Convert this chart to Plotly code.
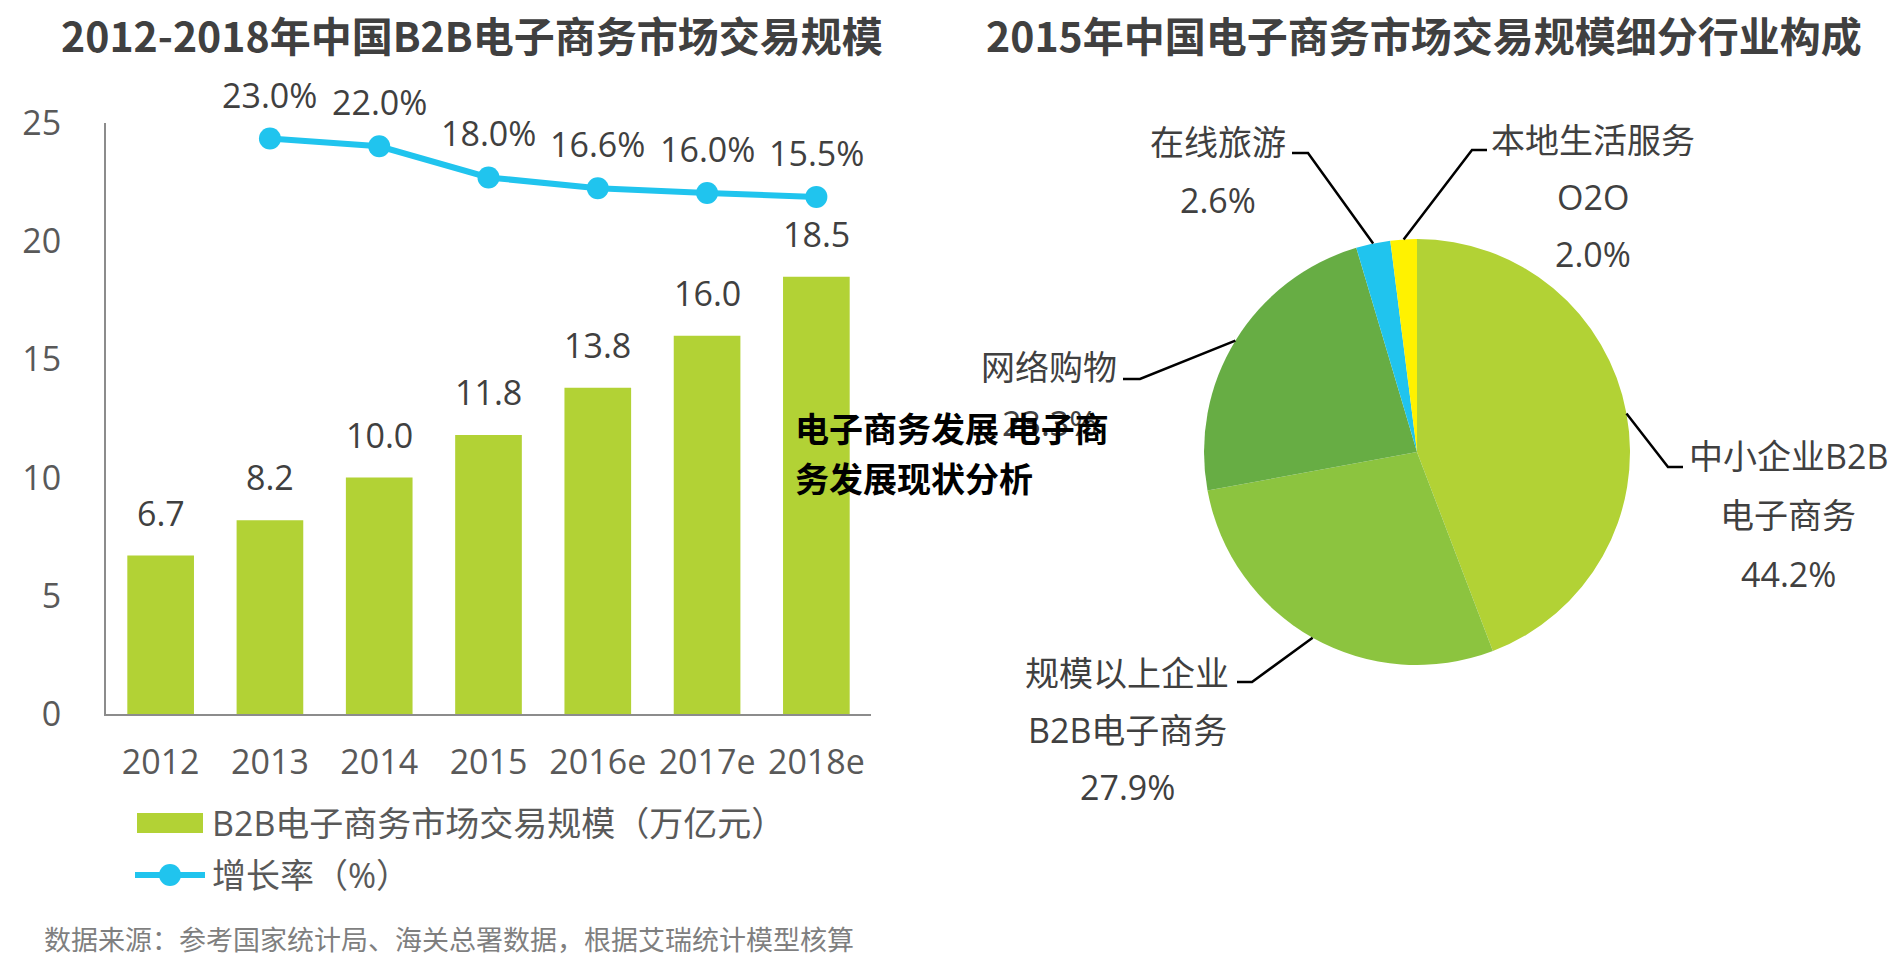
import math
import plotly.graph_objects as go

# ---------------- data ----------------
years = ["2012", "2013", "2014", "2015", "2016e", "2017e", "2018e"]
b2b_scale = [6.7, 8.2, 10.0, 11.8, 13.8, 16.0, 18.5]          # 万亿元
growth_rate = [None, 23.0, 22.0, 18.0, 16.6, 16.0, 15.5]        # %
y_ticks = [0, 5, 10, 15, 20, 25]

pie_labels = ["中小企业B2B电子商务", "规模以上企业B2B电子商务", "网络购物", "在线旅游", "本地生活服务O2O"]
pie_values = [44.2, 27.9, 23.3, 2.6, 2.0]
pie_text_lines = [
    ["中小企业B2B", "电子商务"],
    ["规模以上企业", "B2B电子商务"],
    ["网络购物"],
    ["在线旅游"],
    ["本地生活服务", "O2O"],
]

# ---------------- styling ----------------
W, H = 1903, 967
FONT = "Open Sans, Noto Sans CJK SC, sans-serif"
CJK = "Noto Sans CJK SC, sans-serif"
BAR_GREEN = "#b2d235"
CYAN = "#20c4ee"
PIE_COLORS = ["#b2d235", "#8cc43f", "#67ad44", "#20c4ee", "#fff200"]
DARK = "#404040"
MID = "#595959"
AXIS = "#8c8c8c"


def px(x):
    return x / W


def py(y):
    return 1 - y / H


# plot area (pixels)
PX0, PX1 = 106, 871
PY_TOP, PY_BOT = 123, 714

# pie geometry (pixels)
PIE_CX, PIE_CY, PIE_R = 1417, 452, 213

fig = go.Figure()

fig.add_trace(go.Bar(
    x=years, y=b2b_scale, marker_color=BAR_GREEN, marker_line_width=0,
    name="B2B电子商务市场交易规模（万亿元）", showlegend=False,
    xaxis="x", yaxis="y", width=0.61,
))
fig.add_trace(go.Scatter(
    x=years, y=growth_rate, mode="lines+markers",
    line=dict(color=CYAN, width=6), marker=dict(color=CYAN, size=22),
    name="增长率（%）", showlegend=False, xaxis="x", yaxis="y2",
))

fig.add_trace(go.Pie(
    labels=pie_labels, values=pie_values, sort=False, direction="clockwise",
    rotation=0, textinfo="none", hoverinfo="label+percent",
    marker=dict(colors=PIE_COLORS, line=dict(width=0)),
    domain=dict(x=[px(PIE_CX - PIE_R), px(PIE_CX + PIE_R)],
                y=[py(PIE_CY + PIE_R), py(PIE_CY - PIE_R)]),
    showlegend=False,
))

annotations = []
shapes = []

# titles
annotations.append(dict(text="<b>2012-2018年中国B2B电子商务市场交易规模</b>", x=px(472), y=py(34),
                        xref="paper", yref="paper", showarrow=False,
                        font=dict(family=CJK, size=41, color=DARK), xanchor="center", yanchor="middle"))
annotations.append(dict(text="<b>2015年中国电子商务市场交易规模细分行业构成</b>", x=px(1424), y=py(34),
                        xref="paper", yref="paper", showarrow=False,
                        font=dict(family=CJK, size=41, color=DARK), xanchor="center", yanchor="middle"))

# bar value labels (category index positions on the category axis)
for i, v in enumerate(b2b_scale):
    annotations.append(dict(text=f"{v:.1f}", x=i, y=v, xref="x", yref="y", showarrow=False,
                            yshift=43, yanchor="middle", font=dict(family=FONT, size=34, color=DARK)))
# growth labels
for i, g in enumerate(growth_rate):
    if g is None:
        continue
    annotations.append(dict(text=f"{g:.1f}%", x=i, y=g, xref="x", yref="y2", showarrow=False,
                            yshift=44, yanchor="middle", font=dict(family=FONT, size=34, color=DARK)))

# custom legend
shapes.append(dict(type="rect", xref="paper", yref="paper", x0=px(137), x1=px(203), y0=py(833), y1=py(813),
                   fillcolor=BAR_GREEN, line=dict(width=0)))
shapes.append(dict(type="line", xref="paper", yref="paper", x0=px(135), x1=px(205), y0=py(875), y1=py(875),
                   line=dict(color=CYAN, width=6)))
shapes.append(dict(type="circle", xref="paper", yref="paper", x0=px(159), x1=px(181), y0=py(886), y1=py(864),
                   fillcolor=CYAN, line=dict(width=0)))
annotations.append(dict(text="B2B电子商务市场交易规模（万亿元）", x=px(210), y=py(823), xref="paper", yref="paper",
                        showarrow=False, xanchor="left", yanchor="middle",
                        font=dict(family=FONT, size=34, color=MID)))
annotations.append(dict(text="增长率（%）", x=px(210), y=py(875), xref="paper", yref="paper",
                        showarrow=False, xanchor="left", yanchor="middle",
                        font=dict(family=FONT, size=34, color=MID)))

# source
annotations.append(dict(text="数据来源：参考国家统计局、海关总署数据，根据艾瑞统计模型核算", x=px(42), y=py(938),
                        xref="paper", yref="paper", showarrow=False, xanchor="left", yanchor="middle",
                        font=dict(family=CJK, size=27, color="#7f7f7f")))

# pie labels: (elbow, line end, text center x, first line y, line step)
label_layout = [
    dict(elbow=(1668, 467), end=(1683, 467), tx=1788, ty=456, step=59),
    dict(elbow=(1252, 682), end=(1237, 682), tx=1127, ty=673, step=57),
    dict(elbow=(1140, 379), end=(1123, 379), tx=1049, ty=367, step=56),
    dict(elbow=(1308, 153), end=(1292, 153), tx=1218, ty=142, step=58),
    dict(elbow=(1472, 150), end=(1487, 150), tx=1593, ty=140, step=57),
]
total = sum(pie_values)
cum = 0.0
for val, lines, lay in zip(pie_values, pie_text_lines, label_layout):
    mid = (cum + val / 2) / total * 2 * math.pi
    cum += val
    sx = PIE_CX + PIE_R * math.sin(mid)
    sy = PIE_CY - PIE_R * math.cos(mid)
    ex, ey = lay["elbow"]
    lx, ly = lay["end"]
    shapes.append(dict(type="path", xref="paper", yref="paper",
                       path=f"M {px(sx)},{py(sy)} L {px(ex)},{py(ey)} L {px(lx)},{py(ly)}",
                       line=dict(color="#000000", width=2.5)))
    all_lines = lines + [f"{val:.1f}%"]
    for i, t in enumerate(all_lines):
        annotations.append(dict(text=t, x=px(lay["tx"]), y=py(lay["ty"] + i * lay["step"]),
                                xref="paper", yref="paper", showarrow=False,
                                xanchor="center", yanchor="middle",
                                font=dict(family=FONT, size=34, color=DARK)))

# watermark overlay
annotations.append(dict(text="<b>电子商务发展 电子商</b>", x=px(793), y=py(428), xref="paper", yref="paper",
                        showarrow=False, xanchor="left", yanchor="middle",
                        font=dict(family=CJK, size=34, color="#000000", weight=900)))
annotations.append(dict(text="<b>务发展现状分析</b>", x=px(793), y=py(477), xref="paper", yref="paper",
                        showarrow=False, xanchor="left", yanchor="middle",
                        font=dict(family=CJK, size=34, color="#000000", weight=900)))

fig.update_layout(
    width=W, height=H, autosize=False,
    margin=dict(l=0, r=0, t=0, b=0, pad=0, autoexpand=False),
    paper_bgcolor="white", plot_bgcolor="white",
    xaxis=dict(type="category", categoryorder="array", categoryarray=years,
               range=[-0.5, len(years) - 0.5], autorange=False,
               domain=[px(PX0), px(PX1)], showline=True, linecolor=AXIS, linewidth=2,
               showgrid=False, zeroline=False, ticks="", ticklabelstandoff=17, automargin=False,
               tickfont=dict(family=FONT, size=34, color=MID)),
    yaxis=dict(domain=[py(PY_BOT), py(PY_TOP)], range=[0, 25], autorange=False, tickvals=y_ticks,
               automargin=False, showline=True, linecolor=AXIS, linewidth=2, showgrid=False,
               zeroline=False, ticks="", ticklabelstandoff=36,
               tickfont=dict(family=FONT, size=34, color=MID)),
    yaxis2=dict(domain=[py(PY_BOT), py(PY_TOP)], range=[-51, 25], autorange=False, overlaying="y",
                anchor="x", visible=False, showgrid=False, zeroline=False),
    annotations=annotations, shapes=shapes,
    showlegend=False,
)

fig.write_html("out.html", config={"displayModeBar": False},
               post_script="document.body.style.margin='0px';document.body.style.overflow='hidden';")
